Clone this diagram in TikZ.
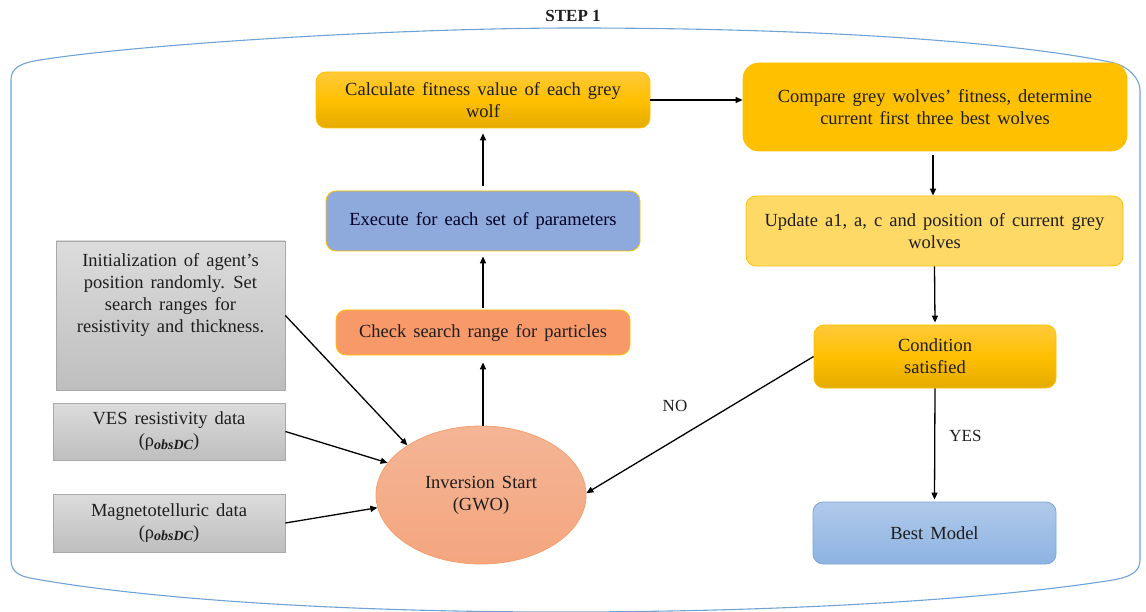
\documentclass[tikz,border=0pt]{standalone}
\usepackage{fontspec}
\setmainfont{Liberation Serif}
\usetikzlibrary{arrows.meta,shapes.geometric,calc}
\definecolor{gold}{HTML}{FFC000}
\definecolor{goldtop}{HTML}{FFC93A}
\definecolor{goldbot}{HTML}{E4AB00}
\definecolor{lightgold}{HTML}{FFD966}
\definecolor{execblue}{HTML}{8EA9DB}
\definecolor{checkor}{HTML}{F8996A}
\definecolor{elltop}{HTML}{F4B596}
\definecolor{ellbot}{HTML}{F4A67E}
\definecolor{ellline}{HTML}{F4A06C}
\definecolor{besttop}{HTML}{B0C9E9}
\definecolor{bestbot}{HTML}{8DB3E2}
\definecolor{bestline}{HTML}{7EA6D8}
\definecolor{greytop}{HTML}{DCDCDC}
\definecolor{greybot}{HTML}{BEBEBE}
\definecolor{greyline}{HTML}{A8A8A8}
\definecolor{frame}{HTML}{6FA3D6}
\definecolor{txt}{HTML}{1E1E1E}
\newcommand{\mytxt}{\fontsize{18.5}{22}\selectfont\spaceskip=0.38em plus 0.1em minus 0.05em\relax}
\newcommand{\obsdc}{(ρ\raisebox{-0.3ex}{\fontsize{14}{14}\selectfont\bfseries\itshape obsDC})}
\begin{document}
\begin{tikzpicture}[x=1pt,y=-1pt,
  every node/.style={inner sep=0pt, text=txt, font=\mytxt, align=center},
  flowbox/.style={rounded corners=10pt, draw, line width=0.8pt},
  goldgrad/.style={flowbox, draw=gold, top color=goldtop, bottom color=goldbot, middle color=gold},
  greybox/.style={draw=greyline, line width=0.8pt, top color=greytop, bottom color=greybot},
  conn/.style={draw=black, line width=1.3pt, -{Triangle[length=7pt,width=6pt]}},
  lbl/.style={font=\fontsize{17}{20}\selectfont}
]
\useasboundingbox (0,0) rectangle (1146,612);

% outer frame
\draw[frame, line width=1.1pt]
  (11,90) -- (11,560) .. controls (11,572) and (20,576) .. (30,578)
  .. controls (150,600) and (350,612) .. (560,612)
  .. controls (800,612) and (1000,598) .. (1113,580)
  .. controls (1130,577) and (1140,572) .. (1140,560)
  -- (1140,90) .. controls (1140,80) and (1130,66) .. (1110,62)
  .. controls (1000,40) and (800,28) .. (575,28)
  .. controls (400,28) and (140,44) .. (40,60)
  .. controls (20,63) and (11,68) .. (11,80) -- cycle;

\node[font=\fontsize{17}{20}\selectfont\bfseries] (title) at (573,16) {STEP 1};

% right/centre column
\node[goldgrad, minimum width=334pt, minimum height=56pt] (calc) at (483,100)
  {Calculate fitness value of each grey\\wolf};
\node[flowbox, draw=gold, fill=gold, rounded corners=16pt, minimum width=384pt, minimum height=88pt] (cmp) at (935,107)
  {Compare grey wolves’ fitness, determine\\current first three best wolves};
\node[flowbox, draw=gold, fill=execblue, minimum width=314pt, minimum height=60pt, text=black!85!blue] (exec) at (483,221)
  {Execute for each set of parameters};
\node[flowbox, draw=gold, fill=checkor, minimum width=294pt, minimum height=45pt] (check) at (483,332.5)
  {Check search range for particles};
\node[flowbox, draw=gold, fill=lightgold, minimum width=377pt, minimum height=70pt] (upd) at (934.5,231)
  {Update a1, a, c and position of current grey\\wolves};
\node[goldgrad, minimum width=242pt, minimum height=63pt] (cond) at (935,356.5)
  {Condition\\satisfied};
\node[flowbox, draw=bestline, top color=besttop, bottom color=bestbot, minimum width=243pt, minimum height=62pt] (best) at (934.5,533)
  {Best Model};

% ellipse
\node[ellipse, draw=ellline, line width=0.8pt, top color=elltop, bottom color=ellbot, minimum width=210pt, minimum height=138pt] (ell) at (481,495)
  {Inversion Start\\(GWO)};

% grey input boxes
\node[greybox, minimum width=229pt, minimum height=149pt] (init) at (170.5,315.5) {};
\node (inittext) at (170.5,295)
  {Initialization of agent’s\\position randomly. Set\\search ranges for\\resistivity and thickness.};
\node[greybox, minimum width=232pt, minimum height=57pt] (ves) at (169,431.5)
  {VES resistivity data\\\obsdc};
\node[greybox, minimum width=232pt, minimum height=58pt] (mag) at (169,523)
  {Magnetotelluric data\\\obsdc};

% connectors
\draw[conn] (calc.east) -- (calc.east -| cmp.west);
\draw[conn, shorten <=4pt] (cmp.south -| 933,0) -- (upd.north -| 933,0);
\draw[conn] (upd.south) -- ([yshift=2pt]cond.north);
\draw[conn] (cond.south) -- node[lbl, right=14pt, pos=0.43] (yes) {YES} ([yshift=2pt]best.north);
\draw[conn] (cond.west) -- (ell.1);
\node[lbl] (no) at (675,406) {NO};
\draw[conn, shorten >=7pt] (ell.north -| 483,0) -- (check.south -| 483,0);
\draw[conn, shorten <=2pt, shorten >=5pt] (check.north -| 483,0) -- (exec.south -| 483,0);
\draw[conn, shorten <=5pt, shorten >=5pt] (exec.north -| 483,0) -- (calc.south -| 483,0);
\draw[conn] (init.east) -- (ell.146);
\draw[conn] (ves.east) -- (ell.161);
\draw[conn] (mag.east) -- (ell.187);
\end{tikzpicture}
\end{document}
